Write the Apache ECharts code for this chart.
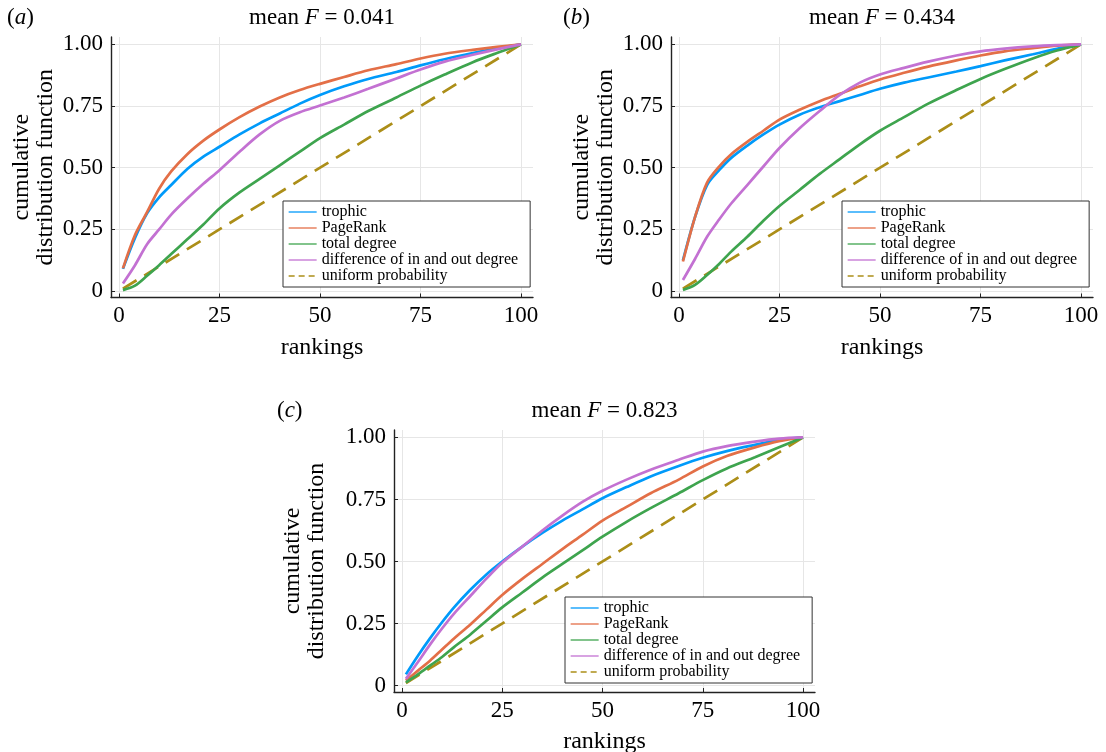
<!DOCTYPE html>
<html><head><meta charset="utf-8">
<script src="https://cdn.jsdelivr.net/npm/echarts@6/dist/echarts.min.js"></script>
<style>html,body{margin:0;padding:0;background:#fff}#c{width:1106px;height:752px}</style>
</head><body><div id="c"></div><script>
// ---------- data ----------
const rankings = [1,4,7,10,13,17,21,25,30,35,40,45,50,56,62,69,75,81,88,94,100];
const xTicks = [0,25,50,75,100];
const yTicks = [0,0.25,0.5,0.75,1];
const seriesNames = ['trophic','PageRank','total degree','difference of in and out degree','uniform probability'];
const panelLetters = ['a','b','c'];
const meanF = ['0.041','0.434','0.823'];

// panel (a)
const trophicA  = [0.09,0.215,0.315,0.38,0.43,0.495,0.545,0.585,0.635,0.68,0.72,0.76,0.795,0.83,0.86,0.888,0.915,0.94,0.965,0.984,1];
const pagerankA = [0.092,0.227,0.32,0.415,0.485,0.555,0.61,0.655,0.705,0.748,0.785,0.815,0.84,0.868,0.895,0.92,0.943,0.962,0.978,0.99,1];
const degreeA   = [0.004,0.022,0.062,0.105,0.15,0.21,0.27,0.335,0.40,0.455,0.51,0.565,0.62,0.675,0.73,0.785,0.833,0.878,0.928,0.965,1];
const diffA     = [0.031,0.105,0.19,0.25,0.31,0.375,0.435,0.49,0.565,0.635,0.69,0.725,0.752,0.785,0.82,0.862,0.898,0.93,0.958,0.98,1];
// panel (b)
const trophicB  = [0.125,0.30,0.43,0.49,0.54,0.59,0.635,0.675,0.715,0.745,0.77,0.795,0.82,0.845,0.866,0.89,0.912,0.935,0.96,0.982,1];
const pagerankB = [0.12,0.30,0.44,0.505,0.555,0.605,0.65,0.695,0.735,0.77,0.80,0.83,0.858,0.885,0.91,0.935,0.955,0.972,0.985,0.995,1];
const degreeB   = [0.004,0.025,0.065,0.11,0.16,0.22,0.285,0.345,0.41,0.475,0.535,0.595,0.65,0.705,0.76,0.815,0.86,0.9,0.943,0.975,1];
const diffB     = [0.045,0.13,0.22,0.29,0.355,0.43,0.505,0.58,0.66,0.73,0.795,0.845,0.878,0.905,0.93,0.955,0.972,0.983,0.992,0.997,1];
// panel (c)
const trophicC  = [0.045,0.12,0.19,0.255,0.315,0.385,0.447,0.50,0.56,0.615,0.665,0.71,0.755,0.80,0.843,0.885,0.918,0.945,0.97,0.99,1];
const pagerankC = [0.02,0.06,0.10,0.145,0.19,0.245,0.305,0.365,0.43,0.49,0.55,0.607,0.665,0.72,0.775,0.83,0.883,0.925,0.96,0.985,1];
const degreeC   = [0.013,0.045,0.08,0.115,0.155,0.205,0.26,0.315,0.375,0.435,0.49,0.545,0.60,0.66,0.715,0.775,0.828,0.875,0.92,0.96,1];
const diffC     = [0.027,0.095,0.165,0.23,0.29,0.36,0.43,0.495,0.56,0.625,0.685,0.74,0.785,0.83,0.87,0.91,0.943,0.965,0.983,0.995,1];
// uniform probability
const uniformX = [1,100];
const uniformY = [0.01,1];

const panelData = [
  [trophicA, pagerankA, degreeA, diffA],
  [trophicB, pagerankB, degreeB, diffB],
  [trophicC, pagerankC, degreeC, diffC]
];

// ---------- layout / style ----------
const FONT = 'Liberation Serif';
const colors = ['#009AFA','#E36F47','#3EA44E','#C371D2','#AC8E18'];
const grids = [
  {left:111, top:37, width:422, height:260.5},
  {left:671, top:37, width:422, height:260.5},
  {left:394, top:430, width:421, height:262}
];
const yNameGaps = [53, 53, 65];
const legendPos = [{left:283, top:201},{left:842, top:201},{left:565, top:597}];

const rich = {
  n:{fontFamily:FONT, fontSize:23, color:'#000', fontWeight:'normal'},
  i:{fontFamily:FONT, fontSize:23, color:'#000', fontWeight:'normal', fontStyle:'italic'}
};

const option = {
  backgroundColor:'#fff',
  animation:false,
  title:[], grid:[], xAxis:[], yAxis:[], legend:[], series:[]
};

function zip(xs, ys){ return xs.map((x,k)=>[x, ys[k]]); }

grids.forEach((g, i) => {
  const cx = g.left + g.width/2;
  option.grid.push(Object.assign({outerBoundsMode:'none', containLabel:false}, g));
  option.title.push({
    text:'{n|mean }{i|F}{n| = ' + meanF[i] + '}',
    left:cx, top:g.top - 31, textAlign:'center', padding:0,
    textStyle:{fontWeight:'normal', rich:rich}
  });
  option.title.push({
    text:'{n|(}{i|' + panelLetters[i] + '}{n|)}',
    left:[7, 563, 277][i], top:g.top - 31, padding:0,
    textStyle:{fontWeight:'normal', rich:rich}
  });
  const axisCommon = {
    axisLine:{show:true, onZero:false, lineStyle:{color:'#222', width:1.4}},
    splitLine:{show:true, lineStyle:{color:'#e6e6e6', width:1}},
    nameTextStyle:{fontFamily:FONT, fontSize:24, color:'#000', lineHeight:24},
  };
  option.xAxis.push(Object.assign({}, axisCommon, {
    type:'value', gridIndex:i, min:-1.97, max:102.97,
    name:'rankings', nameLocation:'middle', nameGap:38,
    axisTick:{show:true, inside:true, length:4, customValues:xTicks, lineStyle:{color:'#222'}},
    axisLabel:{customValues:xTicks, margin:7, fontFamily:FONT, fontSize:23, color:'#000'}
  }));
  option.yAxis.push(Object.assign({}, axisCommon, {
    type:'value', gridIndex:i, min:-0.026, max:1.03,
    name:'cumulative\ndistribution function', nameLocation:'middle', nameGap:yNameGaps[i],
    axisTick:{show:true, inside:true, length:4, customValues:yTicks, lineStyle:{color:'#222'}},
    axisLabel:{customValues:yTicks, margin:8, fontFamily:FONT, fontSize:23, color:'#000',
      formatter:v => v === 0 ? '0' : v.toFixed(2)}
  }));
  panelData[i].forEach((vals, s) => {
    option.series.push({
      type:'line', name:seriesNames[s], xAxisIndex:i, yAxisIndex:i,
      data:zip(rankings, vals), symbol:'none', smooth:0.3,
      lineStyle:{color:colors[s], width:2.7}, itemStyle:{color:colors[s]}, z:3
    });
  });
  option.series.push({
    type:'line', name:seriesNames[4], xAxisIndex:i, yAxisIndex:i,
    data:zip(uniformX, uniformY), symbol:'none',
    lineStyle:{color:colors[4], width:2.7, type:[16,9]}, itemStyle:{color:colors[4]}, z:2
  });
  option.legend.push({
    left:legendPos[i].left, top:legendPos[i].top, orient:'vertical',
    backgroundColor:'#fff', borderColor:'#333', borderWidth:1,
    padding:[3,12,3,5], itemGap:0, itemWidth:28, itemHeight:12, itemTextGap:6,
    selectedMode:false,
    itemStyle:{opacity:0},
    lineStyle:{width:1.3},
    textStyle:{fontFamily:FONT, fontSize:16, color:'#000', lineHeight:15.6},
    data:seriesNames.map((n, s) => s === 4 ? {name:n, lineStyle:{width:1.3, type:[6,4]}} : {name:n})
  });
});

const chart = echarts.init(document.getElementById('c'), null, {renderer:'canvas'});
chart.setOption(option);
</script></body></html>
